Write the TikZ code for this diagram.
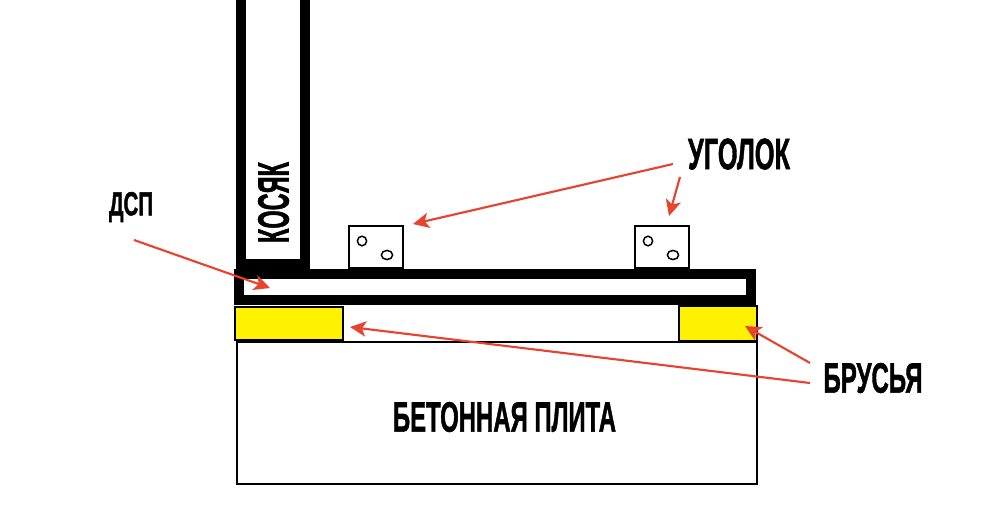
\documentclass[tikz,border=0pt]{standalone}
\usepackage{fontspec}
\usepackage{graphicx}
\usetikzlibrary{arrows.meta}
\setmainfont{Liberation Sans}[BoldFeatures={FakeBold=1.6}]
\definecolor{arrowred}{HTML}{E8432F}
\definecolor{barsyellow}{HTML}{FFF200}
\newcommand{\fitlabel}[3]{\resizebox*{\dimexpr #1pt*3/4\relax}{\dimexpr #2pt*3/4\relax}{\bfseries #3}}
\tikzset{
  x=0.75pt,y=-0.75pt,
  lab/.style={inner sep=0pt,outer sep=0pt,text=black},
  solidblack/.style={fill=black,draw=none},
  whitebox/.style={fill=white,draw=none},
  outline/.style={draw=black,line width=1.5pt,fill=white},
  bar/.style={draw=black,line width=1.5pt,fill=barsyellow},
  hole/.style={draw=black,line width=1.1pt,fill=white},
  callout/.style={draw=arrowred,line width=1.6pt,-{Stealth[length=12pt,width=11.5pt,inset=3pt]}}
}
\begin{document}
\begin{tikzpicture}
\useasboundingbox (0,0) rectangle (1006,522);
\fill[white] (0,0) rectangle (1006,522);
% concrete plate
\path[outline] (237,342) rectangle (757,484);
\draw[black,line width=1.5pt] (757,305) -- (757,342);
% bars
\path[bar] (235,307) rectangle (343,340);
\path[bar] (679,306) rectangle (757,341);
% chipboard and jamb
\path[solidblack] (234,269) rectangle (756,305);
\path[whitebox] (244,279) rectangle (746,295);
\path[solidblack] (236,0) rectangle (310,269);
\path[whitebox] (246,0) rectangle (300,259);
% corner brackets
\path[outline] (349,226) rectangle (403,268);
\path[hole] (362,241) ellipse [x radius=4.6,y radius=4.8];
\path[hole] (387,255) ellipse [x radius=5.6,y radius=4.6];
\path[outline] (635,226) rectangle (689,268);
\path[hole] (648,241) ellipse [x radius=4.6,y radius=4.8];
\path[hole] (673,255) ellipse [x radius=5.6,y radius=4.6];
% labels
\node[lab] (ugolok) at (739,154) {\fitlabel{102}{31}{УГОЛОК}};
\node[lab] (dsp) at (131,207) {\fitlabel{44}{30}{ДСП}};
\node[lab] (brusya) at (873,378) {\fitlabel{99}{30}{БРУСЬЯ}};
\node[lab] (plita) at (504.5,417) {\fitlabel{223}{30}{БЕТОННАЯ ПЛИТА}};
\node[lab,rotate=90] (kosyak) at (273.5,202.5) {\fitlabel{81}{31}{КОСЯК}};
% arrow ends
\coordinate (tailA) at (673,164);
\coordinate (tipA) at (413,224);
\coordinate (tailB) at (680,177);
\coordinate (tipB) at (669,216);
\coordinate (tailC) at (134,240);
\coordinate (tipC) at (270,288);
\coordinate (tailD) at (810,383);
\coordinate (tipD) at (350,327);
\coordinate (tailE) at (810,363);
\coordinate (tipE) at (745,326);
\draw[callout] (tailA) -- (tipA);
\draw[callout] (tailB) -- (tipB);
\draw[callout] (tailC) -- (tipC);
\draw[callout] (tailD) -- (tipD);
\draw[callout] (tailE) -- (tipE);
\end{tikzpicture}
\end{document}
